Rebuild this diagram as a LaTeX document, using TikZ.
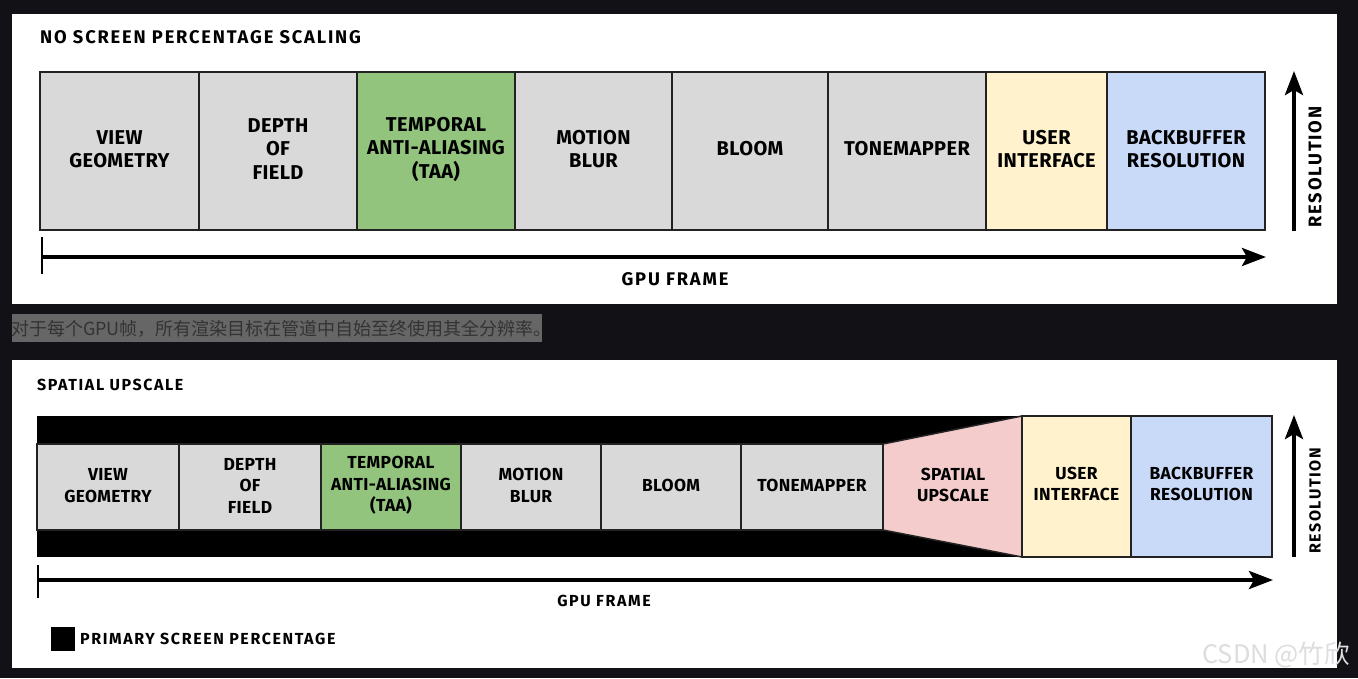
\documentclass[tikz,border=0pt]{standalone}
\usepackage{fontspec}
\setmainfont{Fira Sans}
\newfontfamily\cjk{Noto Sans CJK SC}
\usetikzlibrary{arrows.meta}
\definecolor{bgdark}{HTML}{111116}
\definecolor{stgray}{HTML}{D9D9D9}
\definecolor{stgreen}{HTML}{93C47D}
\definecolor{styellow}{HTML}{FFF2CC}
\definecolor{stblue}{HTML}{C9DAF8}
\definecolor{stpink}{HTML}{F4CCCC}
\definecolor{edge}{HTML}{222222}
\definecolor{capbg}{HTML}{666666}
\definecolor{captext}{HTML}{333333}
\definecolor{wm}{HTML}{DDDDDD}
\newcommand{\topfont}{\addfontfeatures{LetterSpace=2}\bfseries\fontsize{20}{23.5}\selectfont}
\newcommand{\botfont}{\addfontfeatures{LetterSpace=2}\bfseries\fontsize{17.4}{21.5}\selectfont}
\newcommand{\toplab}{\addfontfeatures{LetterSpace=10}\bfseries\fontsize{18.3}{20}\selectfont}
\newcommand{\botlab}{\addfontfeatures{LetterSpace=10}\bfseries\fontsize{16}{18}\selectfont}
\tikzset{
  stagebox/.style={draw=edge, line width=1.5pt, inner sep=0pt, outer sep=0pt},
  toptext/.style={inner sep=0pt, align=center, font=\topfont},
  bottext/.style={inner sep=0pt, align=center, font=\botfont},
  titletop/.style={anchor=west, inner sep=0pt, font=\toplab},
  titlebot/.style={anchor=west, inner sep=0pt, font=\botlab},
  axis/.style={line width=4pt, -{Stealth[length=24pt,width=18pt,inset=5pt]}},
  tick/.style={line width=2.5pt},
}
\begin{document}
\begin{tikzpicture}[x=1pt,y=-1pt]
\useasboundingbox (0,0) rectangle (1358,678);
\fill[bgdark] (0,0) rectangle (1358,678);
% panels
\fill[white] (12,14) rectangle (1337,304);
\fill[white] (12,360) rectangle (1337,668);
% caption
\fill[capbg] (12,314) rectangle (542,342);
\node[anchor=west, inner sep=0pt, text=captext, font=\cjk\fontsize{18}{20}\selectfont] (cap) at (11,328.5) {对于每个GPU帧，所有渲染目标在管道中自始至终使用其全分辨率。};

% ===== top panel =====
\node[titletop] (t1) at (40,37) {NO SCREEN PERCENTAGE SCALING};
\node[stagebox, fill=stgray, minimum width=159, minimum height=158] (a1) at (119.5,151) {};
\node[stagebox, fill=stgray, minimum width=158, minimum height=158] (a2) at (278,151) {};
\node[stagebox, fill=stgreen, minimum width=158, minimum height=158] (a3) at (436,151) {};
\node[stagebox, fill=stgray, minimum width=157, minimum height=158] (a4) at (593.5,151) {};
\node[stagebox, fill=stgray, minimum width=156, minimum height=158] (a5) at (750,151) {};
\node[stagebox, fill=stgray, minimum width=158, minimum height=158] (a6) at (907,151) {};
\node[stagebox, fill=styellow, minimum width=121, minimum height=158] (a7) at (1046.5,151) {};
\node[stagebox, fill=stblue, minimum width=158, minimum height=158] (a8) at (1186,151) {};
\node[toptext] (a1t) at ([yshift=2pt]a1.center) {VIEW\\GEOMETRY};
\node[toptext] (a2t) at ([yshift=2pt]a2.center) {DEPTH\\OF\\FIELD};
\node[toptext] (a3t) at ([yshift=2pt]a3.center) {TEMPORAL\\ANTI-ALIASING\\(TAA)};
\node[toptext] (a4t) at ([yshift=2pt]a4.center) {MOTION\\BLUR};
\node[toptext] (a5t) at ([yshift=2pt]a5.center) {BLOOM};
\node[toptext] (a6t) at ([yshift=2pt]a6.center) {TONEMAPPER};
\node[toptext] (a7t) at ([yshift=2pt]a7.center) {USER\\INTERFACE};
\node[toptext] (a8t) at ([yshift=2pt]a8.center) {BACKBUFFER\\RESOLUTION};

\coordinate (f1s) at (42,257);
\coordinate (f1e) at (1266,257);
\coordinate (k1a) at (42,237);
\coordinate (k1b) at (42,274);
\draw[tick] (k1a) -- (k1b);
\draw[axis] (f1s) -- (f1e);
\node[inner sep=0pt, font=\toplab] (g1) at (675,279) {GPU FRAME};

\coordinate (r1s) at (1294,231);
\coordinate (r1e) at (1294,71);
\draw[axis] (r1s) -- (r1e);
\node[inner sep=0pt, font=\toplab, rotate=90] (rl1) at (1315,167) {RESOLUTION};

% ===== bottom panel =====
\node[titlebot] (t2) at (37,385) {SPATIAL UPSCALE};
\fill[black] (37,416) rectangle (1022,557);
\node[stagebox, fill=stgray, minimum width=142, minimum height=86] (b1) at (108,487) {};
\node[stagebox, fill=stgray, minimum width=142, minimum height=86] (b2) at (250,487) {};
\node[stagebox, fill=stgreen, minimum width=140, minimum height=86] (b3) at (391,487) {};
\node[stagebox, fill=stgray, minimum width=140, minimum height=86] (b4) at (531,487) {};
\node[stagebox, fill=stgray, minimum width=140, minimum height=86] (b5) at (671,487) {};
\node[stagebox, fill=stgray, minimum width=142, minimum height=86] (b6) at (812,487) {};
\draw[draw=edge, line width=1.5pt, fill=stpink] (883,444) -- (1022,416) -- (1022,557) -- (883,530) -- cycle;
\node[stagebox, fill=styellow, minimum width=109, minimum height=141] (b8) at (1076.5,486.5) {};
\node[stagebox, fill=stblue, minimum width=141, minimum height=141] (b9) at (1201.5,486.5) {};
\node[bottext] (b1t) at (108,485.5) {VIEW\\GEOMETRY};
\node[bottext] (b2t) at (250,485.5) {DEPTH\\OF\\FIELD};
\node[bottext] (b3t) at (391,485.5) {TEMPORAL\\ANTI-ALIASING\\(TAA)};
\node[bottext] (b4t) at (531,485.5) {MOTION\\BLUR};
\node[bottext] (b5t) at (671,485.5) {BLOOM};
\node[bottext] (b6t) at (812,485.5) {TONEMAPPER};
\node[bottext] (b7t) at (953,485) {SPATIAL\\UPSCALE};
\node[bottext] (b8t) at (1076.5,484) {USER\\INTERFACE};
\node[bottext] (b9t) at (1201.5,484) {BACKBUFFER\\RESOLUTION};

\coordinate (f2s) at (38,580);
\coordinate (f2e) at (1273,580);
\coordinate (k2a) at (38,565);
\coordinate (k2b) at (38,598);
\draw[tick] (k2a) -- (k2b);
\draw[axis] (f2s) -- (f2e);
\node[inner sep=0pt, font=\botlab] (g2) at (604,601) {GPU FRAME};

\coordinate (r2s) at (1294,557);
\coordinate (r2e) at (1294,415);
\draw[axis] (r2s) -- (r2e);
\node[inner sep=0pt, font=\botlab, rotate=90] (rl2) at (1315,501) {RESOLUTION};

% legend
\node[fill=black, minimum size=24, inner sep=0pt] (lg) at (63,639) {};
\node[titlebot] (lgt) at (80,638.5) {PRIMARY SCREEN PERCENTAGE};

% watermark
\node[anchor=west, inner sep=0pt, text=wm, font=\cjk\fontsize{25.5}{27}\selectfont] (wmk) at (1202,655) {CSDN @竹欣};
\end{tikzpicture}
\end{document}
